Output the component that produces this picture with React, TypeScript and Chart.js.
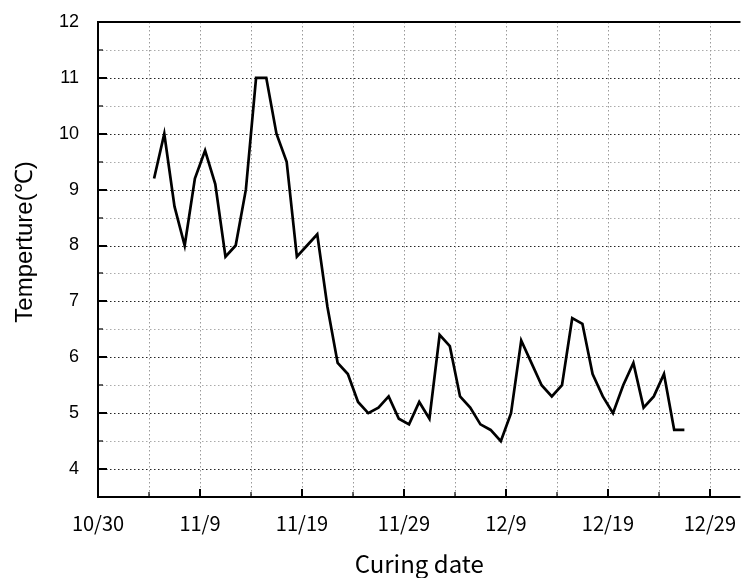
import React, { useEffect, useRef } from 'react';
import { Chart, registerables } from 'chart.js';

Chart.register(...registerables);

// Days counted from 10/30 (day 0); one reading per day
const days = [
  5.5, 6.5, 7.5, 8.5, 9.5, 10.5, 11.5, 12.5, 13.5, 14.5,
  15.5, 16.5, 17.5, 18.5, 19.5, 20.5, 21.5, 22.5, 23.5, 24.5,
  25.5, 26.5, 27.5, 28.5, 29.5, 30.5, 31.5, 32.5, 33.5, 34.5,
  35.5, 36.5, 37.5, 38.5, 39.5, 40.5, 41.5, 42.5, 43.5, 44.5,
  45.5, 46.5, 47.5, 48.5, 49.5, 50.5, 51.5, 52.5, 53.5, 54.5,
  55.5, 56.5, 57.5,
];

const temperatures = [
  9.2, 10.0, 8.7, 8.0, 9.2, 9.7, 9.1, 7.8, 8.0, 9.0,
  11.0, 11.0, 10.0, 9.5, 7.8, 8.0, 8.2, 6.9, 5.9, 5.7,
  5.2, 5.0, 5.1, 5.3, 4.9, 4.8, 5.2, 4.9, 6.4, 6.2,
  5.3, 5.1, 4.8, 4.7, 4.5, 5.0, 6.3, 5.9, 5.5, 5.3,
  5.5, 6.7, 6.6, 5.7, 5.3, 5.0, 5.5, 5.9, 5.1, 5.3,
  5.7, 4.7, 4.7,
];

const xTickDays = [0, 5, 10, 15, 20, 25, 30, 35, 40, 45, 50, 55, 60];
const xLabelDays = [0, 10, 20, 30, 40, 50, 60];
const xTickLabels = ['10/30', '11/9', '11/19', '11/29', '12/9', '12/19', '12/29'];

const xMin = 0;
const xMax = 63;
const yMin = 3.5;
const yMax = 12;
const yStep = 0.5;

const xTitle = 'Curing date';
const yTitle = 'Temperture(℃)';

const framePlugin = {
  id: 'frame',
  beforeDatasetsDraw(chart: any) {
    const { ctx, chartArea: a, scales } = chart;
    const x = scales.x;
    const y = scales.y;
    ctx.save();
    ctx.lineWidth = 1;
    ctx.setLineDash([1.5, 2.5]);
    for (const t of y.ticks) {
      const v = t.value;
      if (v <= yMin || v >= yMax) continue;
      const py = Math.round(y.getPixelForValue(v)) + 0.5;
      ctx.strokeStyle = Number.isInteger(v) ? '#222' : '#aaa';
      ctx.beginPath();
      ctx.moveTo(a.left, py);
      ctx.lineTo(a.right, py);
      ctx.stroke();
    }
    for (const t of x.ticks) {
      const v = t.value;
      if (v <= xMin) continue;
      const px = Math.round(x.getPixelForValue(v)) + 0.5;
      ctx.strokeStyle = '#999';
      ctx.beginPath();
      ctx.moveTo(px, a.top);
      ctx.lineTo(px, a.bottom);
      ctx.stroke();
    }
    ctx.restore();
  },
  afterDatasetsDraw(chart: any) {
    const { ctx, chartArea: a, scales } = chart;
    const x = scales.x;
    const y = scales.y;
    ctx.save();
    ctx.setLineDash([]);
    ctx.strokeStyle = '#000';
    const line = (x1: number, y1: number, x2: number, y2: number, w: number) => {
      ctx.lineWidth = w;
      ctx.beginPath();
      ctx.moveTo(x1, y1);
      ctx.lineTo(x2, y2);
      ctx.stroke();
    };
    line(a.left, a.top - 1, a.left, a.bottom + 1, 2);
    line(a.left - 1, a.bottom, a.right, a.bottom, 2);
    line(a.left - 1, a.top, a.right, a.top, 2);
    for (const t of y.ticks) {
      const v = t.value;
      if (v <= yMin || v >= yMax) continue;
      const major = Number.isInteger(v);
      const py = Math.round(y.getPixelForValue(v));
      line(a.left, py, a.left + (major ? 9 : 5), py, major ? 2 : 1.2);
    }
    for (const t of x.ticks) {
      const v = t.value;
      if (v <= xMin) continue;
      const major = v % 10 === 0;
      const px = Math.round(x.getPixelForValue(v));
      line(px, a.bottom, px, a.bottom - (major ? 8 : 5), major ? 2 : 1.2);
    }
    ctx.restore();
  },
  afterDraw(chart: any) {
    const { ctx } = chart;
    ctx.save();
    ctx.fillStyle = '#000';
    ctx.font = '24px "Liberation Sans", Arial, sans-serif';
    ctx.textAlign = 'center';
    ctx.textBaseline = 'alphabetic';
    ctx.translate(32, 242);
    ctx.rotate(-Math.PI / 2);
    ctx.fillText(yTitle, 0, 0);
    ctx.restore();
  },
};

export default function App() {
  const canvasRef = useRef<HTMLCanvasElement | null>(null);

  useEffect(() => {
    const canvas = canvasRef.current;
    if (!canvas) return;
    const chart = new Chart(canvas, {
      type: 'line',
      data: {
        datasets: [
          {
            label: 'Temperature',
            data: days.map((d, i) => ({ x: d, y: temperatures[i] })),
            borderColor: '#000',
            backgroundColor: '#000',
            borderWidth: 2.7,
            pointRadius: 0,
            tension: 0,
            fill: false,
          },
        ],
      },
      options: {
        responsive: false,
        animation: false,
        devicePixelRatio: 1,
        layout: { padding: { left: 0, right: 0, top: 22, bottom: 0 } },
        plugins: {
          legend: { display: false },
          tooltip: { enabled: false },
        },
        scales: {
          x: {
            type: 'linear',
            min: xMin,
            max: xMax,
            grid: { display: false },
            border: { display: false },
            afterBuildTicks: (scale: any) => {
              scale.ticks = xTickDays.map((v) => ({ value: v }));
            },
            afterFit: (scale: any) => {
              scale.height = 81;
            },
            ticks: {
              autoSkip: false,
              maxRotation: 0,
              padding: 8,
              color: '#000',
              font: { family: '"Noto Sans CJK JP", sans-serif', size: 20, lineHeight: 1 },
              callback: (value: any) => {
                const idx = xLabelDays.indexOf(Number(value));
                return idx >= 0 ? xTickLabels[idx] : '';
              },
            },
            title: {
              display: true,
              text: xTitle,
              color: '#000',
              font: { family: '"Noto Sans CJK JP", sans-serif', size: 24, lineHeight: 1 },
              padding: { top: 0, bottom: 2 },
            },
          },
          y: {
            type: 'linear',
            min: yMin,
            max: yMax,
            grid: { display: false },
            border: { display: false },
            afterFit: (scale: any) => {
              scale.width = 98;
            },
            ticks: {
              stepSize: yStep,
              autoSkip: false,
              padding: 11,
              color: '#000',
              font: { family: '"Liberation Sans", Arial, sans-serif', size: 18 },
              callback: (value: any) => (Number.isInteger(Number(value)) ? String(value) : ''),
            },
          },
        },
      },
      plugins: [framePlugin],
    });
    return () => chart.destroy();
  }, []);

  return (
    <div style={{ position: 'absolute', left: 0, top: 0, width: 744, height: 578, background: '#fff' }}>
      <canvas ref={canvasRef} width={744} height={578} style={{ display: 'block', width: 744, height: 578 }} />
    </div>
  );
}
